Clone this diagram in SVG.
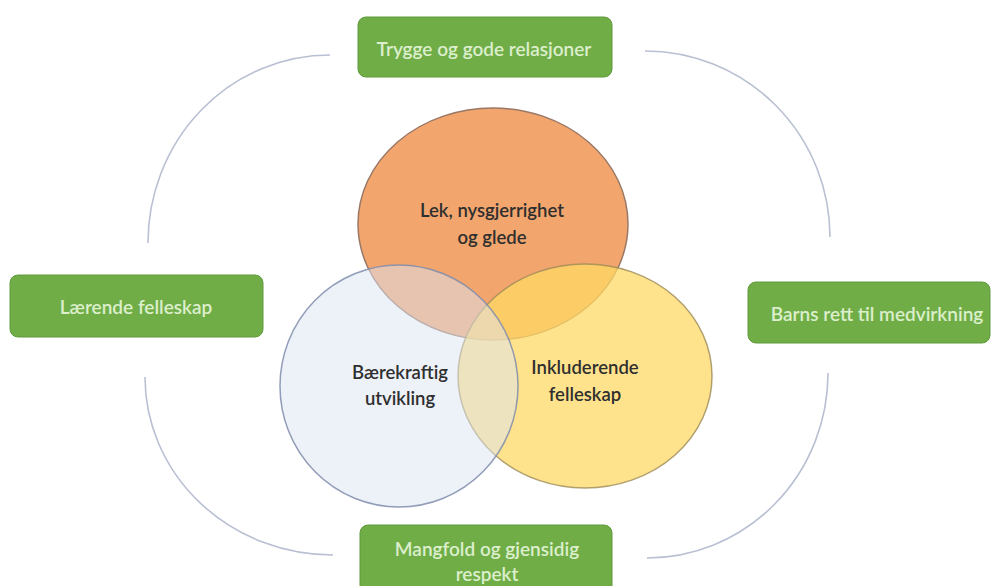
<svg xmlns="http://www.w3.org/2000/svg" width="992" height="586" viewBox="0 0 992 586">
<style>
.box{fill:#70AD47;stroke:#5f9a3c;stroke-width:1}
.bt{font-family:Lato,"Liberation Sans",sans-serif;font-size:19px;font-weight:600;fill:#dcefcc;text-anchor:middle;dominant-baseline:central}
.ct{font-family:Lato,"Liberation Sans",sans-serif;font-size:18.5px;font-weight:600;fill:#2f2f2f;text-anchor:middle;dominant-baseline:central}
.arc{fill:none;stroke:#b9c0d3;stroke-width:1.6}
</style>
<rect width="992" height="586" fill="#ffffff"/>
<g id="connectors">
<path class="arc" d="M330,55 A182,188 0 0 0 148,243"/>
<path class="arc" d="M645,51 A185,186 0 0 1 830,237"/>
<path class="arc" d="M145,377 A188,178 0 0 0 333,555"/>
<path class="arc" d="M828,373 A181,185 0 0 1 647,558"/>
</g>
<g id="lek">
<ellipse cx="493" cy="224" rx="135" ry="116" fill="#F2A56D" stroke="#9a7866" stroke-width="1.5"/>
</g>
<g id="inkluderende">
<ellipse cx="585" cy="376" rx="127" ry="112" fill="#FFD966" fill-opacity="0.75" stroke="#9c8b58" stroke-opacity="0.8" stroke-width="1.5"/>
</g>
<g id="baerekraftig">
<ellipse cx="399" cy="386" rx="119" ry="121" fill="#DCE4F2" fill-opacity="0.5" stroke="#7f8cab" stroke-opacity="0.85" stroke-width="1.5"/>
</g>
<g id="labels">
<text class="ct" x="492" y="210">Lek, nysgjerrighet</text>
<text class="ct" x="492" y="237">og glede</text>
<text class="ct" x="400" y="372">Bærekraftig</text>
<text class="ct" x="400" y="398">utvikling</text>
<text class="ct" x="585" y="367">Inkluderende</text>
<text class="ct" x="585" y="394">felleskap</text>
</g>
<g id="trygge">
<rect class="box" x="358" y="17" width="254" height="60" rx="8"/>
<text class="bt" x="484" y="48">Trygge og gode relasjoner</text>
</g>
<g id="laerende">
<rect class="box" x="10" y="275" width="253" height="62" rx="8"/>
<text class="bt" x="136" y="306">Lærende felleskap</text>
</g>
<g id="barns">
<rect class="box" x="748" y="282" width="242" height="61" rx="8"/>
<text class="bt" x="877" y="313">Barns rett til medvirkning</text>
</g>
<g id="mangfold">
<rect class="box" x="360" y="525" width="252" height="70" rx="8"/>
<text class="bt" x="487" y="548">Mangfold og gjensidig</text>
<text class="bt" x="487" y="573">respekt</text>
</g>
</svg>
